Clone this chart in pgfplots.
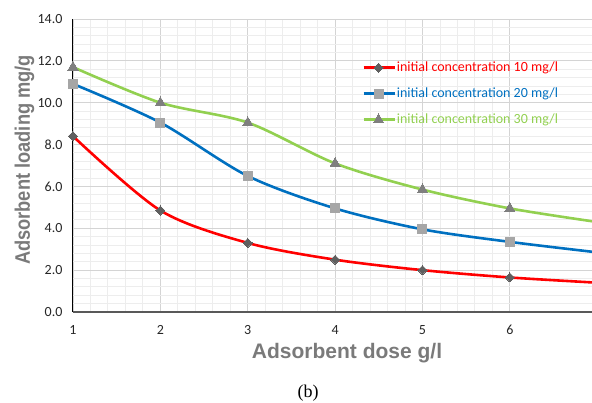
\documentclass[border=0pt]{standalone}
\usepackage{fontspec}
\setmainfont{Carlito}
\newfontfamily\labelfont{Liberation Sans}
\newfontfamily\capfont{Liberation Serif}
\usepackage{graphicx}
\usepackage{pgfplots}
\pgfplotsset{compat=1.18}

\definecolor{cred}{HTML}{FF0000}
\definecolor{cblue}{HTML}{0070C0}
\definecolor{cgreen}{HTML}{92D050}
\definecolor{mdark}{HTML}{5F5F5F}
\definecolor{mmid}{HTML}{7F7F7F}
\definecolor{mlight}{HTML}{A6A6A6}
\definecolor{labgray}{HTML}{7A7A7A}

\begin{document}
\begin{tikzpicture}
\path[use as bounding box] (-73pt,-90pt) rectangle (519pt,312pt);
\begin{axis}[
  at={(0pt,0pt)}, anchor=south west,
  width=519pt, height=293pt, scale only axis,
  xmin=1, xmax=6.94, ymin=0, ymax=14,
  xtick={1,2,3,4,5,6}, ytick={0,2,...,14},
  minor x tick num=4, minor y tick num=4,
  major tick length=0pt, minor tick length=0pt,
  grid=both,
  major grid style={draw=black!17, line width=0.9pt},
  minor grid style={draw=black!7, line width=0.9pt},
  axis lines=left, axis line style={-},
  x axis line style={draw=black!65, line width=1.1pt},
  y axis line style={draw=black, line width=1pt},
  /pgf/number format/assume math mode=true,
  ticklabel style={font=\fontsize{14}{16}\selectfont, text=black!85},
  y tick label style={/pgf/number format/fixed, /pgf/number format/fixed zerofill,
                      /pgf/number format/precision=1, xshift=-7pt},
  x tick label style={yshift=-10pt},
  xlabel={Adsorbent dose g/l},
  ylabel={\scalebox{0.87}[1]{Adsorbent loading mg/g}},
  label style={font=\labelfont\bfseries\fontsize{21}{24}\selectfont, text=labgray},
  x label style={at={(axis description cs:0.528,0)}, anchor=base, yshift=-46pt},
  y label style={at={(axis description cs:-0.0829,0.519)}, anchor=base},
  legend style={at={(rel axis cs:0.557,0.86)}, anchor=north west, draw=none, fill=none,
                font=\fontsize{14}{16}\selectfont, row sep=11pt, inner sep=0pt,
                nodes={inner sep=1pt, text height=10pt, text depth=3pt}},
  legend cell align=left,
  legend image code/.code={\draw[mark repeat=2,mark phase=2] plot coordinates {(0pt,0pt)(15pt,0pt)(31pt,0pt)};},
  every axis plot/.append style={line width=2.6pt, smooth, tension=0.5},
]
% 10 mg/l
\addplot[cred, mark=square*, mark size=3.2pt, mark options={rotate=45, fill=mdark, draw=mdark, line width=0pt}]
  coordinates {(1,8.4) (2,4.85) (3,3.3) (4,2.5) (5,2.0) (6,1.65) (7,1.4)};
\addlegendentry{\textcolor{cred}{initial concentration 10 mg/l}}
% 20 mg/l
\addplot[cblue, mark=square*, mark size=4.5pt, mark options={fill=mlight, draw=mlight, line width=0pt}]
  coordinates {(1,10.9) (2,9.05) (3,6.5) (4,4.95) (5,3.95) (6,3.35) (7,2.85)};
\addlegendentry{\textcolor{cblue}{initial concentration 20 mg/l}}
% 30 mg/l
\addplot[cgreen, mark=triangle*, mark size=5.8pt, mark options={fill=mmid, draw=mmid, line width=0pt}]
  coordinates {(1,11.7) (2,10.0) (3,9.05) (4,7.1) (5,5.85) (6,4.95) (7,4.3)};
\addlegendentry{\textcolor{cgreen}{initial concentration 30 mg/l}}
\end{axis}
\node[font=\capfont\fontsize{18}{20}\selectfont, anchor=base] at (235pt,-85pt) {(b)};
\end{tikzpicture}
\end{document}
